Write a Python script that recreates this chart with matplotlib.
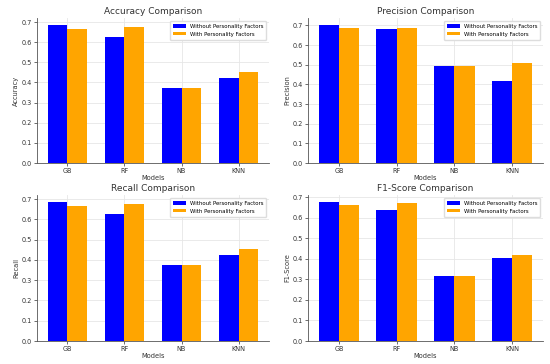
import numpy as np
import matplotlib
matplotlib.use("Agg")
import matplotlib.pyplot as plt

modelos = ["GB", "RF", "NB", "KNN"]
metricas = ["Accuracy", "Precision", "Recall", "F1-Score"]

# Sin factores de personalidad
accuracy_sin = [0.686, 0.627, 0.373, 0.424]
precision_sin = [0.703, 0.680, 0.496, 0.415]
recall_sin = [0.686, 0.625, 0.373, 0.424]
f1_sin = [0.677, 0.636, 0.315, 0.406]

# Con factores de personalidad
accuracy_con = [0.665, 0.675, 0.373, 0.454]
precision_con = [0.689, 0.689, 0.496, 0.511]
recall_con = [0.665, 0.675, 0.373, 0.453]
f1_con = [0.662, 0.674, 0.315, 0.419]

valores_sin = [accuracy_sin, precision_sin, recall_sin, f1_sin]
valores_con = [accuracy_con, precision_con, recall_con, f1_con]

fig = plt.figure(figsize=(5.5, 3.64), dpi=100)
W, H = 550, 364
# posiciones de los ejes en pixeles: (izq, der, arriba, abajo)
cajas = [(37, 269, 18, 163), (308, 543, 18, 163),
         (37, 269, 195, 341), (308, 543, 195, 341)]

x = np.arange(len(modelos))
ancho = 0.35

for i, metrica in enumerate(metricas):
    l, r, t, b = cajas[i]
    ax = fig.add_axes([l / W, 1 - b / H, (r - l) / W, (b - t) / H])
    ax.bar(x - ancho / 2, valores_sin[i], ancho, color="blue",
           label="Without Personality Factors", zorder=3)
    ax.bar(x + ancho / 2, valores_con[i], ancho, color="orange",
           label="With Personality Factors", zorder=3)
    ax.set_title(f"{metrica} Comparison", fontsize=6.5, color="#333333", pad=3)
    ax.set_xlabel("Models", fontsize=4.8, color="#333333", labelpad=1)
    ax.set_ylabel(metrica, fontsize=4.8, color="#333333", labelpad=2)
    ax.set_xticks(x)
    ax.set_xticklabels(modelos)
    ax.set_yticks(np.arange(0, 0.71, 0.1))
    ax.tick_params(labelsize=4.7, length=2, width=0.5, pad=1.5, colors="#333333")
    ax.grid(True, color="#e6e6e6", linewidth=0.6, zorder=0)
    for lado in ["top", "right"]:
        ax.spines[lado].set_visible(False)
    for lado in ["left", "bottom"]:
        ax.spines[lado].set_color("#555555")
        ax.spines[lado].set_linewidth(0.6)
    ax.legend(loc="upper right", fontsize=3.9, frameon=True, framealpha=1,
              edgecolor="#dddddd", handlelength=2.4, handleheight=0.6,
              borderpad=0.6, labelspacing=0.5, handletextpad=0.6)

fig.savefig("out.png", dpi=100)
